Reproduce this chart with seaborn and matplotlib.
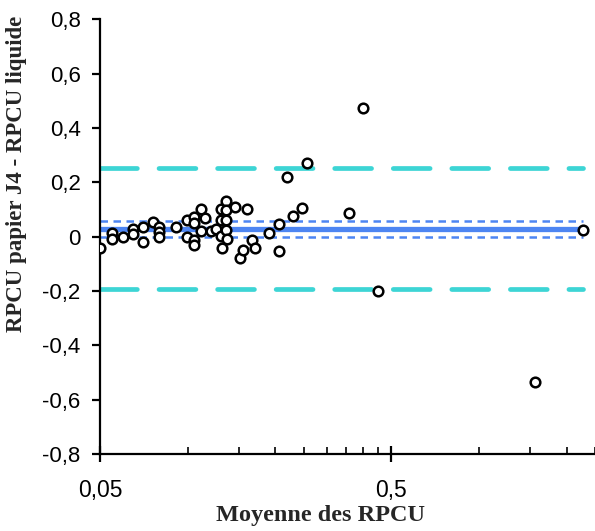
"""Bland-Altman plot: RPCU papier J4 vs RPCU liquide (log x axis)."""

import matplotlib
matplotlib.use("Agg")
import matplotlib.pyplot as plt
import matplotlib.ticker as mticker
import numpy as np
import pandas as pd
import seaborn as sns

# mean of the two methods (x) and difference (y)
moyenne = [0.050, 0.055, 0.055, 0.060, 0.065, 0.065, 0.070, 0.070, 0.076, 0.080,
           0.080, 0.080, 0.091, 0.0995, 0.0995, 0.105, 0.105, 0.105, 0.105, 0.111,
           0.111, 0.115, 0.120, 0.1255, 0.130, 0.130, 0.130, 0.131, 0.135, 0.135,
           0.135, 0.135, 0.136, 0.145, 0.151, 0.155, 0.160, 0.166, 0.170, 0.190,
           0.206, 0.206, 0.220, 0.230, 0.247, 0.257, 0.358, 0.400, 0.450, 1.55,
           2.27]
difference = [-0.040, 0.012, -0.010, 0.000, 0.030, 0.009, 0.036, -0.020, 0.053, 0.036,
              0.018, -0.002, 0.036, 0.062, 0.000, 0.071, 0.050, -0.012, -0.030, 0.101,
              0.022, 0.068, 0.022, 0.029, 0.101, 0.062, 0.003, -0.041, 0.132, 0.098,
              0.062, 0.024, -0.010, 0.110, -0.080, -0.049, 0.101, -0.012, -0.041, 0.015,
              0.048, -0.053, 0.218, 0.075, 0.107, 0.270, 0.086, 0.472, -0.200, -0.534,
              0.025]

mean_diff = 0.029
ci_bounds = [0.0, 0.059]
loa_bounds = [-0.192, 0.253]

y_ticks = [-0.8, -0.6, -0.4, -0.2, 0, 0.2, 0.4, 0.6, 0.8]
x_ticks = [0.05, 0.5]

BLUE = "#4d85f2"
CYAN = "#3dd5d5"


def fr(v, pos=None):
    if abs(v) < 1e-9:
        return "0"
    return f"{v:g}".replace(".", ",")


def main() -> None:
    sns.set_style("ticks")
    plt.rcParams["font.family"] = ["Liberation Sans", "DejaVu Sans"]

    df = pd.DataFrame({"moyenne": moyenne, "difference": difference})
    x0, x1 = df["moyenne"].min(), df["moyenne"].max()

    fig = plt.figure(figsize=(5.95, 5.31), dpi=100)
    ax = fig.add_axes([0.168, 0.145, 0.832, 0.8185])

    # limits of agreement
    for v in loa_bounds:
        ax.hlines(v, x0, x1, colors=CYAN, linewidth=3.4, linestyles=(0, (7.8, 4.6)),
                  capstyle="round", zorder=2)
    # confidence interval of the mean difference
    for v in ci_bounds:
        ax.hlines(v, x0, x1, colors=BLUE, linewidth=1.8, linestyles=(0, (3.0, 2.2)),
                  zorder=2)
    ax.hlines(mean_diff, x0, x1, colors=BLUE, linewidth=3.8, zorder=2)

    sns.scatterplot(data=df, x="moyenne", y="difference", ax=ax, s=48,
                    facecolor="white", edgecolor="black", linewidth=1.8, zorder=3)

    ax.set_xscale("log")
    ax.set_xlim(0.05, 2.5)
    ax.set_ylim(-0.8, 0.8)
    ax.xaxis.set_major_locator(mticker.FixedLocator(x_ticks))
    ax.xaxis.set_minor_locator(mticker.FixedLocator(
        list(np.arange(2, 10) * 0.05) + list(np.arange(2, 10) * 0.5)))
    ax.xaxis.set_major_formatter(mticker.FuncFormatter(fr))
    ax.xaxis.set_minor_formatter(mticker.NullFormatter())
    ax.set_yticks(y_ticks)
    ax.yaxis.set_major_formatter(mticker.FuncFormatter(fr))

    sns.despine(ax=ax)
    for side in ("left", "bottom"):
        ax.spines[side].set_linewidth(1.6)
        ax.spines[side].set_color("black")
    ax.tick_params(axis="y", direction="out", length=6, width=1.6, labelsize=16,
                   pad=8, colors="black")
    ax.tick_params(axis="x", which="major", direction="inout", length=12, width=1.6,
                   labelsize=16.5, pad=12, colors="black")
    ax.tick_params(axis="x", which="minor", direction="in", length=5, width=1.4)

    ax.set_xlabel("Moyenne des RPCU", family=["Liberation Serif"], fontweight="bold",
                  fontsize=17.5)
    ax.set_ylabel("RPCU papier J4 - RPCU liquide", family=["Liberation Serif"],
                  fontweight="bold", fontsize=16.5)
    ax.xaxis.set_label_coords(0.445, -0.118)
    ax.xaxis.label.set_va("top")
    ax.yaxis.set_label_coords(-0.148, 0.644)

    fig.savefig("out.png", dpi=100)
    plt.close(fig)


if __name__ == "__main__":
    main()
